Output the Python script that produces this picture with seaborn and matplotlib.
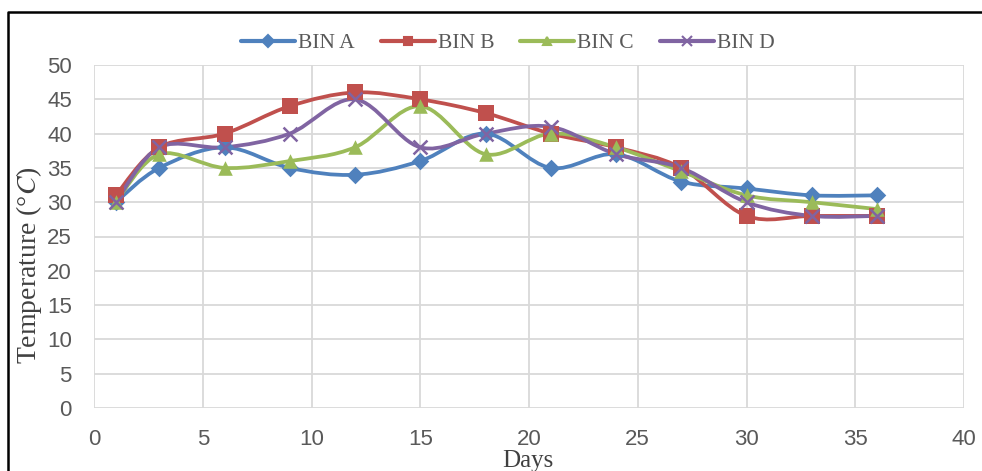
import numpy as np
import pandas as pd
import matplotlib
matplotlib.use("Agg")
import matplotlib.pyplot as plt
from matplotlib.path import Path
from matplotlib.patches import PathPatch
from matplotlib.lines import Line2D
import seaborn as sns

days = [1, 3, 6, 9, 12, 15, 18, 21, 24, 27, 30, 33, 36]
bin_a = [30, 35, 38, 35, 34, 36, 40, 35, 37, 33, 32, 31, 31]
bin_b = [31, 38, 40, 44, 46, 45, 43, 40, 38, 35, 28, 28, 28]
bin_c = [30, 37, 35, 36, 38, 44, 37, 40, 38, 34.5, 31, 30, 29]
bin_d = [30, 38, 38, 40, 45, 38, 40, 41, 37, 35, 30, 28, 28]
series_names = ["BIN A", "BIN B", "BIN C", "BIN D"]
x_ticks = [0, 5, 10, 15, 20, 25, 30, 35, 40]
y_ticks = [0, 5, 10, 15, 20, 25, 30, 35, 40, 45, 50]

colors = {"BIN A": "#4F81BD", "BIN B": "#C0504D", "BIN C": "#9BBB59", "BIN D": "#8064A2"}
markers = {"BIN A": "D", "BIN B": "s", "BIN C": "^", "BIN D": "x"}
msizes = {"BIN A": 80, "BIN B": 120, "BIN C": 110, "BIN D": 100}

df = pd.DataFrame({"Day": days, "BIN A": bin_a, "BIN B": bin_b, "BIN C": bin_c, "BIN D": bin_d})
long = df.melt(id_vars="Day", var_name="Bin", value_name="Temp")

sns.set_theme(style="white")
plt.rcParams["mathtext.fontset"] = "stix"

fig = plt.figure(figsize=(9.82, 4.71), dpi=100)
ax = fig.add_axes([94 / 982, 1 - 408 / 471, (964 - 94) / 982, (408 - 65) / 471])


def smooth_path(xs, ys):
    pts = np.column_stack([xs, ys]).astype(float)
    n = len(pts)
    verts = [pts[0]]
    codes = [Path.MOVETO]
    for i in range(n - 1):
        p0 = pts[i - 1] if i > 0 else pts[i]
        p1 = pts[i]
        p2 = pts[i + 1]
        p3 = pts[i + 2] if i + 2 < n else pts[i + 1]
        c1 = p1 + (p2 - p0) / 6.0
        c2 = p2 - (p3 - p1) / 6.0
        verts += [c1, c2, p2]
        codes += [Path.CURVE4] * 3
    return Path(verts, codes)


for name in series_names:
    sub = long[long["Bin"] == name]
    patch = PathPatch(smooth_path(sub["Day"].values, sub["Temp"].values),
                      facecolor="none", edgecolor=colors[name], lw=2.7, zorder=3,
                      capstyle="round", joinstyle="round")
    ax.add_patch(patch)

for name in series_names:
    sub = long[long["Bin"] == name]
    kw = dict(linewidth=1.8) if markers[name] == "x" else dict(linewidth=0)
    sns.scatterplot(data=sub, x="Day", y="Temp", ax=ax, color=colors[name],
                    marker=markers[name], s=msizes[name], zorder=4, legend=False, **kw)

ax.set_xlim(0, 40)
ax.set_ylim(0, 50)
ax.set_xticks(x_ticks)
ax.set_yticks(y_ticks)
ax.grid(True, color="#D9D9D9", linewidth=1.3)
ax.set_axisbelow(True)
for s in ax.spines.values():
    s.set_visible(False)
ax.tick_params(axis="x", length=0, labelsize=16, labelcolor="#595959", pad=15)
ax.tick_params(axis="y", length=0, labelsize=16, labelcolor="#595959", pad=16)
for lab in ax.get_xticklabels() + ax.get_yticklabels():
    lab.set_family("Liberation Sans")

ax.set_xlabel("Days", family="Liberation Serif", fontsize=18, color="#404040", va="baseline")
ax.xaxis.set_label_coords((528 - 94) / 870, -(467 - 408) / 343)
ax.set_ylabel("Temperature (°$C$)", family="Liberation Serif", fontsize=20, color="#404040", va="center")
ax.yaxis.set_label_coords((29 - 94) / 870, (408 - 265) / 343)

handles = [Line2D([0], [0], color=colors[n], lw=3, marker=markers[n], markersize=6 if n != "BIN D" else 7,
                  markeredgewidth=1.5) for n in series_names]
leg = fig.legend(handles, series_names, loc="center", bbox_to_anchor=(508 / 982, 1 - 43 / 471), ncol=4,
                 frameon=False, prop={"family": "Liberation Serif", "size": 15.5}, handlelength=2.5,
                 columnspacing=1.2, handletextpad=0.15)
for t in leg.get_texts():
    t.set_color("#595959")

fig.add_artist(Line2D([8 / 982, 8 / 982, 1.0], [0.0, 1 - 12 / 471, 1 - 12 / 471],
                      transform=fig.transFigure, color="black", lw=1.8))

fig.savefig("out.png", dpi=100)
